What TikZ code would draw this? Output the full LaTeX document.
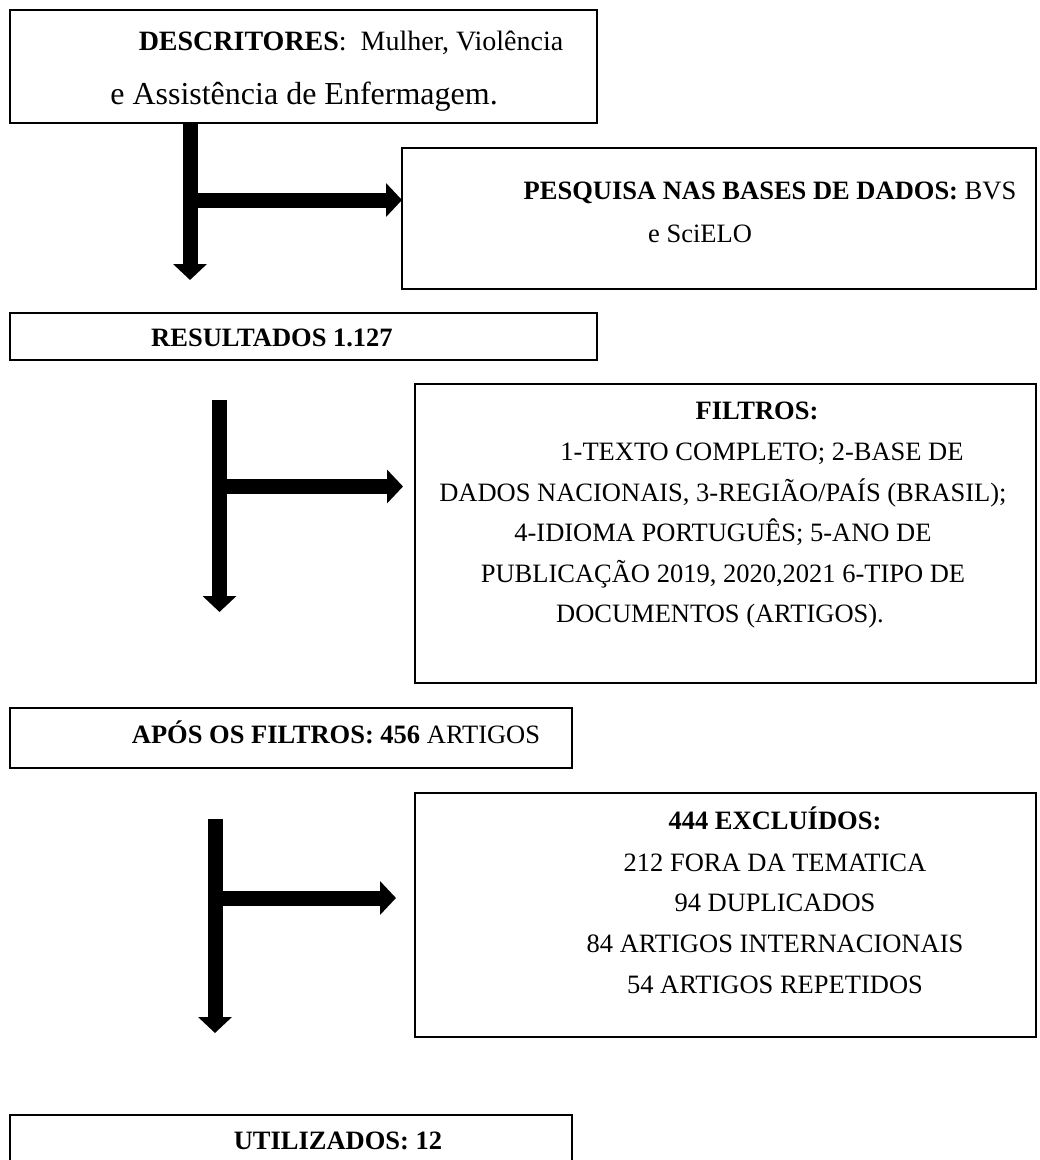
\documentclass[tikz,border=0pt]{standalone}
\usepackage{fontspec}
\setmainfont{Liberation Serif}
\usetikzlibrary{arrows.meta}
\begin{document}
\begin{tikzpicture}[x=1pt,y=-1pt,
  box/.style={draw, line width=1.6pt, rectangle, inner sep=0pt, outer sep=0pt, anchor=north west},
  blk/.style={line width=15pt, -{Triangle[length=16pt,width=33pt]}},
  txt/.style={anchor=base, inner sep=0pt, font=\fontsize{26.5}{30}\selectfont},
]
\clip (0,0) rectangle (1040,1160);
\fill[white] (0,0) rectangle (1040,1160);

% boxes
\node[box, minimum width=587pt, minimum height=113pt] (b1) at (10,10) {};
\node[box, minimum width=634pt, minimum height=141pt] (b2) at (402,148) {};
\node[box, minimum width=587pt, minimum height=47pt]  (b3) at (10,313) {};
\node[box, minimum width=621pt, minimum height=299pt] (b4) at (415,384) {};
\node[box, minimum width=562pt, minimum height=60pt]  (b5) at (10,708) {};
\node[box, minimum width=621pt, minimum height=244pt] (b6) at (415,793) {};
\node[box, minimum width=562pt, minimum height=80pt]  (b7) at (10,1115) {};

% texts
\node[txt, font=\fontsize{28}{30}\selectfont] (t1a) at (351,50) {\textbf{DESCRITORES}:~~Mulher, Violência};
\node[txt, font=\fontsize{32}{34}\selectfont] (t1b) at (304,104) {e Assistência de Enfermagem.};

\node[txt] (t2a) at (770,199) {\textbf{PESQUISA NAS BASES DE DADOS:} BVS};
\node[txt] (t2b) at (700,242) {e SciELO};

\node[txt] (t3) at (272,346) {\textbf{RESULTADOS 1.127}};

\node[txt] (t4a) at (757,419) {\textbf{FILTROS:}};
\node[txt] (t4b) at (762,460) {1-TEXTO COMPLETO; 2-BASE DE};
\node[txt] (t4c) at (723,501) {DADOS NACIONAIS, 3-REGIÃO/PAÍS (BRASIL);};
\node[txt] (t4d) at (723,541) {4-IDIOMA PORTUGUÊS; 5-ANO DE};
\node[txt] (t4e) at (723,582) {PUBLICAÇÃO 2019, 2020,2021 6-TIPO DE};
\node[txt] (t4f) at (720,622) {DOCUMENTOS (ARTIGOS).};

\node[txt] (t5) at (336,743) {\textbf{APÓS OS FILTROS: 456} ARTIGOS};

\node[txt] (t6a) at (775,829) {\textbf{444 EXCLUÍDOS:}};
\node[txt] (t6b) at (775,871) {212 FORA DA TEMATICA};
\node[txt] (t6c) at (775,911) {94 DUPLICADOS};
\node[txt] (t6d) at (775,952) {84 ARTIGOS INTERNACIONAIS};
\node[txt] (t6e) at (775,993) {54 ARTIGOS REPETIDOS};

\node[txt] (t7) at (338,1149) {\textbf{UTILIZADOS: 12}};

% arrows
\coordinate (x1) at (190,0);
\coordinate (a1end) at (190,280);
\coordinate (a1j) at (190,200);
\draw[blk] (b1.south -| x1) -- (a1end);
\draw[blk] (a1j) -- (b2.west |- a1j);

\coordinate (a2top) at (219.5,400);
\coordinate (a2end) at (219.5,612);
\coordinate (a2j) at (219.5,486.5);
\coordinate (a2tip) at (403,486.5);
\draw[blk] (a2top) -- (a2end);
\draw[blk] (a2j) -- (a2tip);

\coordinate (a3top) at (215,819);
\coordinate (a3end) at (215,1033);
\coordinate (a3j) at (215,898);
\coordinate (a3tip) at (396,898);
\draw[blk] (a3top) -- (a3end);
\draw[blk] (a3j) -- (a3tip);
\end{tikzpicture}
\end{document}
